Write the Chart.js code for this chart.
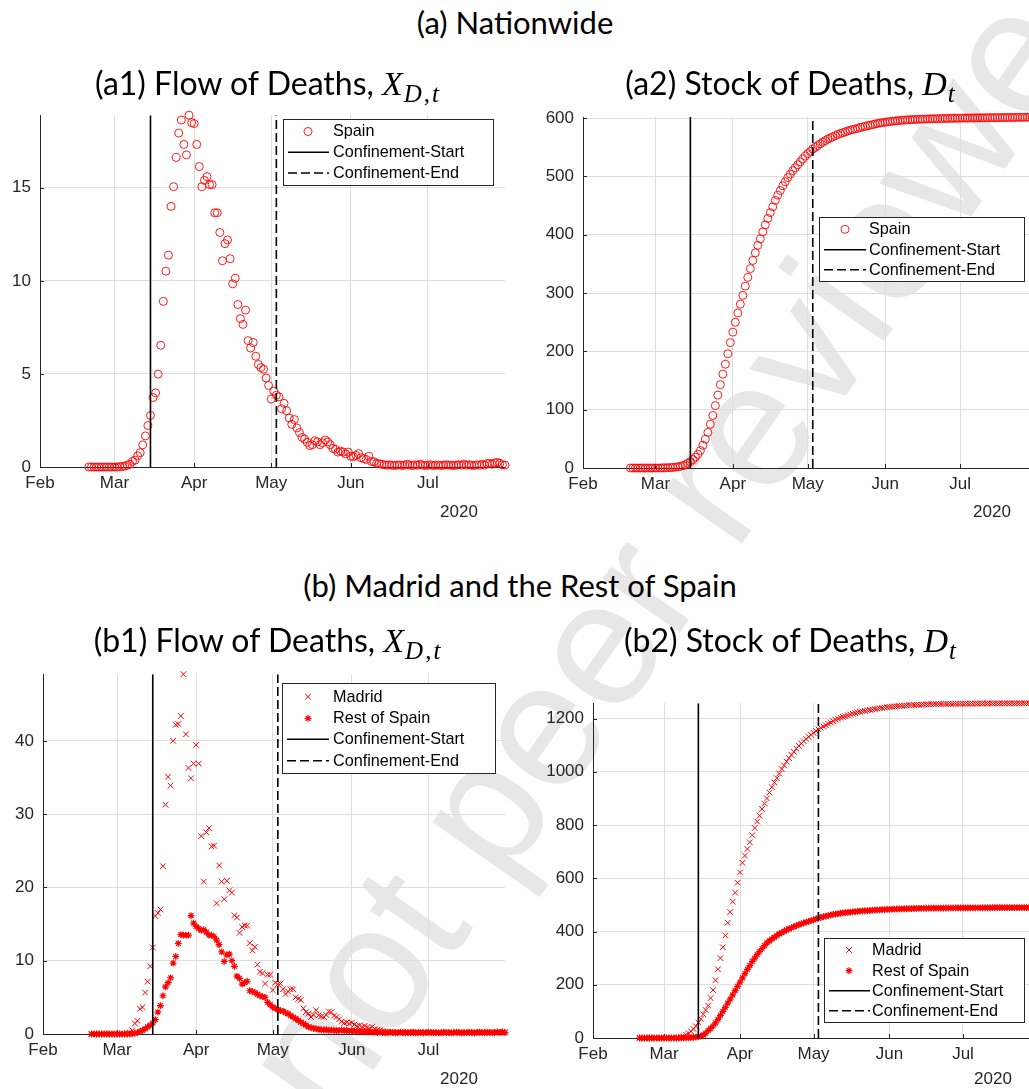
<!DOCTYPE html>
<html>
<head>
<meta charset="utf-8">
<script src="https://cdn.jsdelivr.net/npm/chart.js@4.4.0/dist/chart.umd.min.js"></script>
<style>
  body { margin: 0; width: 1029px; height: 1089px; overflow: hidden; background: #fff; position: relative; }
  .wm { position: absolute; left: 495px; top: 790px; transform: translate(-50%, -50%) rotate(-55deg);
        font-family: 'Liberation Sans', Arial, sans-serif; font-size: 178px; line-height: 1; color: #e7e7e7;
        white-space: nowrap; z-index: 0; }
  .pane { position: absolute; z-index: 1; }
  .ttl { position: absolute; transform: translate(-50%, -50%); white-space: nowrap; line-height: 1;
         font-family: 'Lato', 'DejaVu Sans', sans-serif; font-size: 32px; color: #000; z-index: 2; }
  .ttl.big { font-size: 31px; }
  .mi { font-family: 'Liberation Serif', serif; font-style: italic; font-size: 34px; padding-right: 1px; }
  .ttl sub { font-family: 'Liberation Serif', serif; font-size: 25px; vertical-align: -7px; letter-spacing: 2px; }
  .ttl sub i { font-style: italic; }
  .yr { position: absolute; transform: translate(-50%, -50%); font-family: 'Liberation Sans', Arial, sans-serif;
        font-size: 17px; color: #262626; z-index: 2; }
</style>
</head>
<body>
<div class="wm">Preprint not peer reviewed</div>

<div class="ttl big" style="left:515px; top:22px">(a) Nationwide</div>
<div class="ttl" style="left:268px; top:86px">(a1) Flow of Deaths, <span class="mi">X</span><sub><i>D</i>,<i>t</i></sub></div>
<div class="ttl" style="left:791px; top:86px">(a2) Stock of Deaths, <span class="mi">D</span><sub><i>t</i></sub></div>
<div class="ttl big" style="left:520px; top:585px">(b) Madrid and the Rest of Spain</div>
<div class="ttl" style="left:268px; top:643px">(b1) Flow of Deaths, <span class="mi">X</span><sub><i>D</i>,<i>t</i></sub></div>
<div class="ttl" style="left:791px; top:643px">(b2) Stock of Deaths, <span class="mi">D</span><sub><i>t</i></sub></div>

<div class="yr" style="left:459px; top:512px">2020</div>
<div class="yr" style="left:992px; top:512px">2020</div>
<div class="yr" style="left:459px; top:1079px">2020</div>
<div class="yr" style="left:993px; top:1079px">2020</div>

<div class="pane" style="left:0px; top:96px"><canvas id="a1" width="520" height="440"></canvas></div>
<div class="pane" style="left:540px; top:96px"><canvas id="a2" width="510" height="440"></canvas></div>
<div class="pane" style="left:0px; top:655px"><canvas id="b1" width="520" height="434"></canvas></div>
<div class="pane" style="left:540px; top:684px"><canvas id="b2" width="510" height="405"></canvas></div>

<script>
// x axis: days counted from 1 Feb 2020
const monthDays = [0, 29, 60, 90, 121, 151];
const monthLabels = ['Feb', 'Mar', 'Apr', 'May', 'Jun', 'Jul'];
const firstDay = 19;   // 20 Feb
const lastDay = 181;   // 31 Jul
const confStartDay = 43; // 15 Mar
const confEndDay = 92;   // 3 May

// (a1) Spain, daily flow of deaths
const spainFlow = [
  0, 0, 0, 0, 0, 0, 0, 0, 0, 0,
  0, 0, 0.02, 0.03, 0.05, 0.1, 0.15, 0.3, 0.37, 0.6,
  0.77, 1.19, 1.67, 2.23, 2.77, 3.73, 3.98, 4.99, 6.54, 8.9,
  10.52, 11.38, 14.0, 15.06, 16.63, 17.94, 18.64, 17.33, 16.77, 18.9,
  18.5, 18.45, 17.33, 16.14, 15.06, 15.4, 15.6, 15.17, 15.17, 13.66,
  13.66, 12.6, 11.08, 12.0, 12.2, 11.19, 9.84, 10.14, 8.73, 7.97,
  7.66, 8.43, 6.79, 6.39, 6.69, 5.95, 5.51, 5.34, 5.25, 4.78,
  4.38, 3.65, 4.08, 3.86, 3.77, 3.13, 3.42, 3.02, 2.63, 2.29,
  2.55, 2.1, 1.85, 1.59, 1.5, 1.33, 1.15, 1.2, 1.41, 1.35,
  1.2, 1.3, 1.45, 1.35, 1.2, 1.0, 0.95, 0.8, 0.85, 0.8,
  0.7, 0.8, 0.58, 0.55, 0.62, 0.72, 0.5, 0.45, 0.4, 0.58,
  0.3, 0.28, 0.2, 0.18, 0.15, 0.12, 0.1, 0.12, 0.1, 0.08,
  0.1, 0.12, 0.08, 0.1, 0.15, 0.1, 0.08, 0.12, 0.1, 0.15,
  0.1, 0.08, 0.1, 0.12, 0.08, 0.1, 0.1, 0.08, 0.1, 0.12,
  0.1, 0.1, 0.08, 0.1, 0.12, 0.1, 0.15, 0.1, 0.12, 0.1,
  0.08, 0.12, 0.1, 0.15, 0.1, 0.18, 0.2, 0.15, 0.22, 0.25,
  0.2, 0.12, 0.1
];

// (a2) Spain, stock of deaths
const spainStock = [
  0, 0, 0, 0, 0, 0, 0, 0, 0, 0,
  0, 0, 0.1, 0.2, 0.3, 0.5, 0.7, 1.0, 1.5, 2.1,
  2.9, 4.1, 5.8, 8.0, 10.8, 14.5, 18.5, 23.5, 30, 39,
  49.5, 61, 75, 90, 107, 125, 143, 161, 178, 196,
  215, 233, 250, 266, 281, 296, 312, 327, 342, 356,
  369, 382, 393, 405, 417, 428, 438, 448, 459, 468,
  476, 484, 491, 498, 504, 510, 515, 520, 525, 530,
  535, 539, 543, 547, 550, 553, 556, 559, 561.5, 564,
  566, 568, 570, 572, 573.5, 575, 576.5, 578, 579.5, 580.5,
  581.5, 582.5, 584, 585, 586, 587, 588, 589, 590, 591,
  591.7, 592.4, 593, 593.6, 594.2, 594.8, 595.3, 595.7, 596.1, 596.5,
  596.8, 597.1, 597.4, 597.6, 597.8, 598, 598.2, 598.3, 598.5, 598.6,
  598.8, 598.9, 599, 599.1, 599.2, 599.4, 599.5, 599.6, 599.7, 599.8,
  599.9, 599.9, 600, 600.1, 600.2, 600.2, 600.3, 600.4, 600.4, 600.5,
  600.6, 600.6, 600.7, 600.8, 600.8, 600.9, 600.9, 601, 601, 601.1,
  601.1, 601.2, 601.2, 601.3, 601.3, 601.4, 601.4, 601.5, 601.5, 601.6,
  601.6, 601.7, 601.7
];

// (b1) Madrid and rest of Spain, daily flow of deaths
const madridFlow = [
  0, 0, 0, 0, 0, 0, 0, 0, 0, 0,
  0, 0, 0, 0, 0.1, 0.2, 0.5, 1.43, 1.8, 3.44,
  3.66, 5.66, 7.14, 9.24, 11.8, 16.1, 16.5, 17.0, 22.9, 31.3,
  35.1, 33.9, 40.0, 42.2, 42.3, 43.4, 49.1, 40.9, 36.3, 34.9,
  36.9, 39.45, 36.9, 27.0, 20.8, 27.5, 28.1, 25.6, 25.7, 17.85,
  23.0, 20.8, 18.4, 20.9, 19.6, 19.3, 16.2, 15.9, 13.8, 14.6,
  14.8, 14.8, 12.4, 11.4, 11.9, 9.46, 8.5, 8.3, 6.87, 8.1,
  8.1, 6.0, 7.0, 6.8, 6.87, 6.1, 5.45, 5.8, 6.1, 6.1,
  5.0, 4.8, 4.64, 3.5, 3.0, 2.8, 2.32, 2.6, 3.25, 2.54,
  2.4, 2.32, 2.6, 3.08, 2.99, 2.5, 2.32, 2.0, 1.7, 1.5,
  1.6, 1.4, 1.55, 1.3, 1.1, 1.2, 1.0, 1.1, 0.9, 0.8,
  1.0, 0.7, 0.6, 0.5, 0.4, 0.35, 0.3, 0.25, 0.3, 0.2,
  0.25, 0.2, 0.3, 0.15, 0.2, 0.25, 0.2, 0.15, 0.2, 0.3,
  0.2, 0.15, 0.2, 0.25, 0.2, 0.15, 0.2, 0.1, 0.2, 0.25,
  0.15, 0.2, 0.15, 0.2, 0.25, 0.2, 0.1, 0.2, 0.15, 0.2,
  0.25, 0.2, 0.3, 0.2, 0.15, 0.25, 0.2, 0.3, 0.25, 0.2,
  0.35, 0.3, 0.25
];
const restFlow = [
  0, 0, 0, 0, 0, 0, 0, 0, 0, 0,
  0, 0, 0, 0, 0, 0, 0.05, 0.1, 0.2, 0.35,
  0.5, 0.7, 0.98, 1.2, 1.5, 1.97, 2.99, 3.88, 5.22, 6.43,
  7.0, 7.67, 9.68, 10.58, 12.36, 13.56, 13.5, 13.48, 13.48, 16.16,
  15.13, 14.68, 14.4, 14.15, 14.23, 13.9, 13.48, 13.48, 13.3, 12.8,
  12.2, 11.2, 9.9, 10.8, 10.9, 10.0, 9.24, 7.9, 7.6, 6.8,
  7.0, 7.2, 5.9, 5.8, 5.66, 5.4, 5.22, 5.1, 4.99, 4.32,
  4.0, 3.66, 3.5, 3.3, 3.2, 3.12, 2.9, 2.77, 2.5, 2.32,
  2.1, 1.87, 1.6, 1.43, 1.2, 0.98, 0.85, 0.76, 0.7, 0.63,
  0.6, 0.55, 0.6, 0.5, 0.55, 0.5, 0.45, 0.5, 0.55, 0.45,
  0.5, 0.4, 0.45, 0.4, 0.35, 0.4, 0.3, 0.35, 0.3, 0.3,
  0.25, 0.3, 0.2, 0.25, 0.2, 0.15, 0.2, 0.25, 0.2, 0.15,
  0.2, 0.25, 0.2, 0.15, 0.2, 0.2, 0.25, 0.15, 0.2, 0.2,
  0.15, 0.2, 0.25, 0.2, 0.15, 0.2, 0.2, 0.15, 0.25, 0.2,
  0.2, 0.15, 0.2, 0.25, 0.2, 0.15, 0.2, 0.2, 0.25, 0.2,
  0.15, 0.2, 0.25, 0.2, 0.2, 0.25, 0.2, 0.15, 0.2, 0.25,
  0.2, 0.25, 0.2
];

// (b2) Madrid and rest of Spain, stock of deaths
const madridStock = [
  0, 0, 0, 0, 0, 0, 0, 0, 0, 0,
  0, 0, 0, 0, 0.2, 0.5, 1.2, 3, 6, 12,
  18, 25, 34, 44, 58, 72, 89, 105, 122, 150,
  180, 217, 258, 300, 341, 385, 433, 473, 512, 546,
  583, 622, 658, 685, 710, 735, 762, 789, 813, 835,
  860, 880, 900, 922, 942, 960, 976, 993, 1010, 1024,
  1038, 1051, 1063, 1075, 1087, 1097, 1106, 1115, 1123, 1131,
  1139, 1146, 1153, 1159, 1165, 1170, 1175, 1180, 1185, 1190,
  1195, 1199, 1203, 1206, 1209, 1212, 1215, 1218, 1220.5, 1223,
  1225, 1227, 1229, 1231, 1232.5, 1234, 1235.5, 1237, 1238.5, 1240,
  1241.2, 1242.3, 1243.4, 1244.4, 1245.3, 1246.2, 1247, 1247.8, 1248.5, 1249.2,
  1249.8, 1250.4, 1250.9, 1251.4, 1251.8, 1252.2, 1252.6, 1253, 1253.3, 1253.6,
  1253.9, 1254.1, 1254.3, 1254.5, 1254.7, 1254.9, 1255, 1255.2, 1255.3, 1255.4,
  1255.5, 1255.6, 1255.7, 1255.8, 1255.9, 1256, 1256.1, 1256.2, 1256.3, 1256.3,
  1256.4, 1256.4, 1256.5, 1256.5, 1256.6, 1256.6, 1256.7, 1256.7, 1256.8, 1256.8,
  1256.9, 1256.9, 1257, 1257, 1257, 1257.1, 1257.1, 1257.1, 1257.2, 1257.2,
  1257.2, 1257.3, 1257.3
];
const restStock = [
  0, 0, 0, 0, 0, 0, 0, 0, 0, 0,
  0, 0, 0, 0, 0, 0, 0, 0.2, 0.5, 0.8,
  1.1, 1.5, 2.5, 3.5, 5, 7, 11, 18, 28, 36,
  45, 57, 70, 85, 100, 115, 131, 146, 162, 178,
  194, 210, 226, 242, 258, 272, 288, 300, 313, 325,
  336, 347, 357, 365, 372, 378, 385, 391, 396, 401,
  406, 410, 414, 418, 422, 426, 429, 432, 435, 438,
  441, 444, 447, 450, 453, 455.5, 458, 460, 462, 464,
  465.5, 467, 468.5, 470, 471, 472, 473, 474, 475, 475.8,
  476.6, 477.3, 478, 478.6, 479.2, 479.8, 480.4, 481, 481.5, 482,
  482.5, 483, 483.4, 483.8, 484.2, 484.5, 484.8, 485.1, 485.4, 485.7,
  486, 486.2, 486.4, 486.6, 486.8, 487, 487.2, 487.3, 487.5, 487.6,
  487.7, 487.8, 487.9, 488, 488.1, 488.2, 488.3, 488.4, 488.4, 488.5,
  488.6, 488.6, 488.7, 488.8, 488.8, 488.9, 489, 489, 489.1, 489.1,
  489.2, 489.2, 489.3, 489.3, 489.4, 489.4, 489.5, 489.5, 489.6, 489.6,
  489.7, 489.7, 489.7, 489.8, 489.8, 489.8, 489.9, 489.9, 489.9, 490,
  490, 490, 490.1
];

// y axes
const a1Ticks = [0, 5, 10, 15];
const a2Ticks = [0, 100, 200, 300, 400, 500, 600];
const b1Ticks = [0, 10, 20, 30, 40];
const b2Ticks = [0, 200, 400, 600, 800, 1000, 1200];

const RED = 'rgb(255,0,0)';
const toXY = vals => vals.map((v, i) => ({ x: firstDay + i, y: v }));

// small inward tick marks on both axes (matlab style)
const inwardTicks = {
  id: 'inwardTicks',
  beforeDatasetsDraw(chart) {
    const { ctx, chartArea: a, scales: { x, y } } = chart;
    ctx.save();
    ctx.strokeStyle = '#262626';
    ctx.lineWidth = 1;
    ctx.beginPath();
    x.ticks.forEach(t => {
      const px = Math.round(x.getPixelForValue(t.value)) + 0.5;
      ctx.moveTo(px, a.bottom);
      ctx.lineTo(px, a.bottom - 4);
    });
    y.ticks.forEach(t => {
      const py = Math.round(y.getPixelForValue(t.value)) + 0.5;
      ctx.moveTo(a.left, py);
      ctx.lineTo(a.left + 4, py);
    });
    ctx.stroke();
    ctx.restore();
  }
};

// legend box drawn inside the plot, like matlab's
const boxLegend = {
  id: 'boxLegend',
  afterDraw(chart, args, o) {
    if (!o || !o.rect) return;
    const ctx = chart.ctx;
    const [x, y, w, h] = o.rect;
    ctx.save();
    ctx.fillStyle = '#fff';
    ctx.fillRect(x, y, w, h);
    ctx.strokeStyle = '#262626';
    ctx.lineWidth = 1;
    ctx.strokeRect(Math.round(x) + 0.5, Math.round(y) + 0.5, Math.round(w), Math.round(h));
    ctx.font = '16.2px "Liberation Sans", Arial, sans-serif';
    ctx.textBaseline = 'middle';
    chart.data.datasets.forEach((ds, i) => {
      const ry = o.rows[i];
      if (ds.showLine) {
        ctx.strokeStyle = ds.borderColor;
        ctx.lineWidth = ds.borderWidth;
        ctx.setLineDash(ds.borderDash || []);
        ctx.beginPath();
        ctx.moveTo(o.lineX[0], ry);
        ctx.lineTo(o.lineX[1], ry);
        ctx.stroke();
        ctx.setLineDash([]);
      } else {
        ctx.strokeStyle = RED;
        ctx.fillStyle = 'rgba(0,0,0,0)';
        ctx.lineWidth = ds.pointBorderWidth;
        Chart.helpers.drawPoint(ctx, { pointStyle: ds.pointStyle, radius: ds.pointRadius, borderWidth: ds.pointBorderWidth, rotation: 0 }, o.markX, ry);
      }
      ctx.fillStyle = '#000';
      ctx.fillText(ds.label, o.textX, ry + 0.5);
    });
    ctx.restore();
  }
};

function panel(id, box, area, yMax, yTicks, series, leg) {
  const datasets = series.map(s => ({
    label: s.label,
    data: toXY(s.values),
    showLine: false,
    pointStyle: s.style,
    pointRadius: s.r,
    pointBorderWidth: s.bw,
    pointBorderColor: RED,
    pointBackgroundColor: 'rgba(0,0,0,0)',
    clip: false,
    order: 2
  }));
  datasets.push({
    label: 'Confinement-Start',
    data: [{ x: confStartDay, y: 0 }, { x: confStartDay, y: yMax }],
    showLine: true, borderColor: '#000', borderWidth: 1.6, pointRadius: 0, order: 1
  });
  datasets.push({
    label: 'Confinement-End',
    data: [{ x: confEndDay, y: 0 }, { x: confEndDay, y: yMax }],
    showLine: true, borderColor: '#000', borderWidth: 1.6, borderDash: [9, 4], pointRadius: 0, order: 1
  });

  // legend geometry: page coords -> canvas coords
  const legend = {
    rect: [leg.x0 - box.left, leg.y0 - box.top, leg.x1 - leg.x0, leg.y1 - leg.y0],
    rows: leg.rows.map(r => r - box.top),
    markX: leg.markX - box.left,
    lineX: [leg.lineX0 - box.left, leg.lineX1 - box.left],
    textX: leg.textX - box.left
  };

  const tickFont = { family: "'Liberation Sans', Arial, sans-serif", size: 17 };
  new Chart(document.getElementById(id), {
    type: 'scatter',
    data: { datasets },
    plugins: [inwardTicks, boxLegend],
    options: {
      responsive: false,
      animation: false,
      devicePixelRatio: 1,
      events: [],
      layout: { padding: { left: 0, top: area.top - box.top, right: box.left + box.w - area.right, bottom: 0 } },
      plugins: { legend: { display: false }, tooltip: { enabled: false }, boxLegend: legend },
      scales: {
        x: {
          type: 'linear', min: 0, max: lastDay,
          afterBuildTicks: s => { s.ticks = monthDays.map(v => ({ value: v })); },
          afterFit: s => { s.height = box.top + box.h - area.bottom; },
          ticks: { callback: v => monthLabels[monthDays.indexOf(v)], font: tickFont, color: '#262626', padding: 6, maxRotation: 0, autoSkip: false },
          grid: { color: '#dedede', lineWidth: 1, drawTicks: false },
          border: { color: '#262626', width: 1 }
        },
        y: {
          type: 'linear', min: 0, max: yMax,
          afterBuildTicks: s => { s.ticks = yTicks.map(v => ({ value: v })); },
          afterFit: s => { s.width = area.left - box.left; },
          ticks: { callback: v => String(v), font: tickFont, color: '#262626', padding: 9 },
          grid: { color: '#dedede', lineWidth: 1, drawTicks: false },
          border: { color: '#262626', width: 1 }
        }
      }
    }
  });
}

panel('a1', { left: 0, top: 96, w: 520, h: 440 }, { left: 40, top: 106, right: 505, bottom: 467 }, 18.9, a1Ticks,
  [{ label: 'Spain', values: spainFlow, style: 'circle', r: 4, bw: 0.9 }],
  { x0: 283, y0: 119, x1: 493, y1: 185, rows: [131.5, 152.3, 173], markX: 308, lineX0: 288, lineX1: 329, textX: 333 });

panel('a2', { left: 540, top: 96, w: 510, h: 440 }, { left: 583, top: 117, right: 1035, bottom: 468 }, 602, a2Ticks,
  [{ label: 'Spain', values: spainStock, style: 'circle', r: 4, bw: 0.9 }],
  { x0: 819, y0: 217, x1: 1024, y1: 281, rows: [229.3, 249.7, 269.7], markX: 845, lineX0: 824, lineX1: 866, textX: 869 });

panel('b1', { left: 0, top: 655, w: 520, h: 434 }, { left: 43, top: 667, right: 505, bottom: 1034 }, 49.1, b1Ticks,
  [{ label: 'Madrid', values: madridFlow, style: 'crossRot', r: 4, bw: 1 },
   { label: 'Rest of Spain', values: restFlow, style: 'star', r: 3.4, bw: 1.2 }],
  { x0: 282, y0: 683, x1: 495, y1: 773, rows: [696.7, 718.3, 739.3, 760.7], markX: 308, lineX0: 287, lineX1: 329, textX: 333 });

panel('b2', { left: 540, top: 684, w: 510, h: 405 }, { left: 593, top: 694, right: 1036.5, bottom: 1038 }, 1257.5, b2Ticks,
  [{ label: 'Madrid', values: madridStock, style: 'crossRot', r: 4, bw: 1 },
   { label: 'Rest of Spain', values: restStock, style: 'star', r: 3.4, bw: 1.2 }],
  { x0: 824, y0: 938, x1: 1024, y1: 1022, rows: [950, 970.7, 990.7, 1010.7], markX: 849, lineX0: 829, lineX1: 870, textX: 872 });
</script>
</body>
</html>
